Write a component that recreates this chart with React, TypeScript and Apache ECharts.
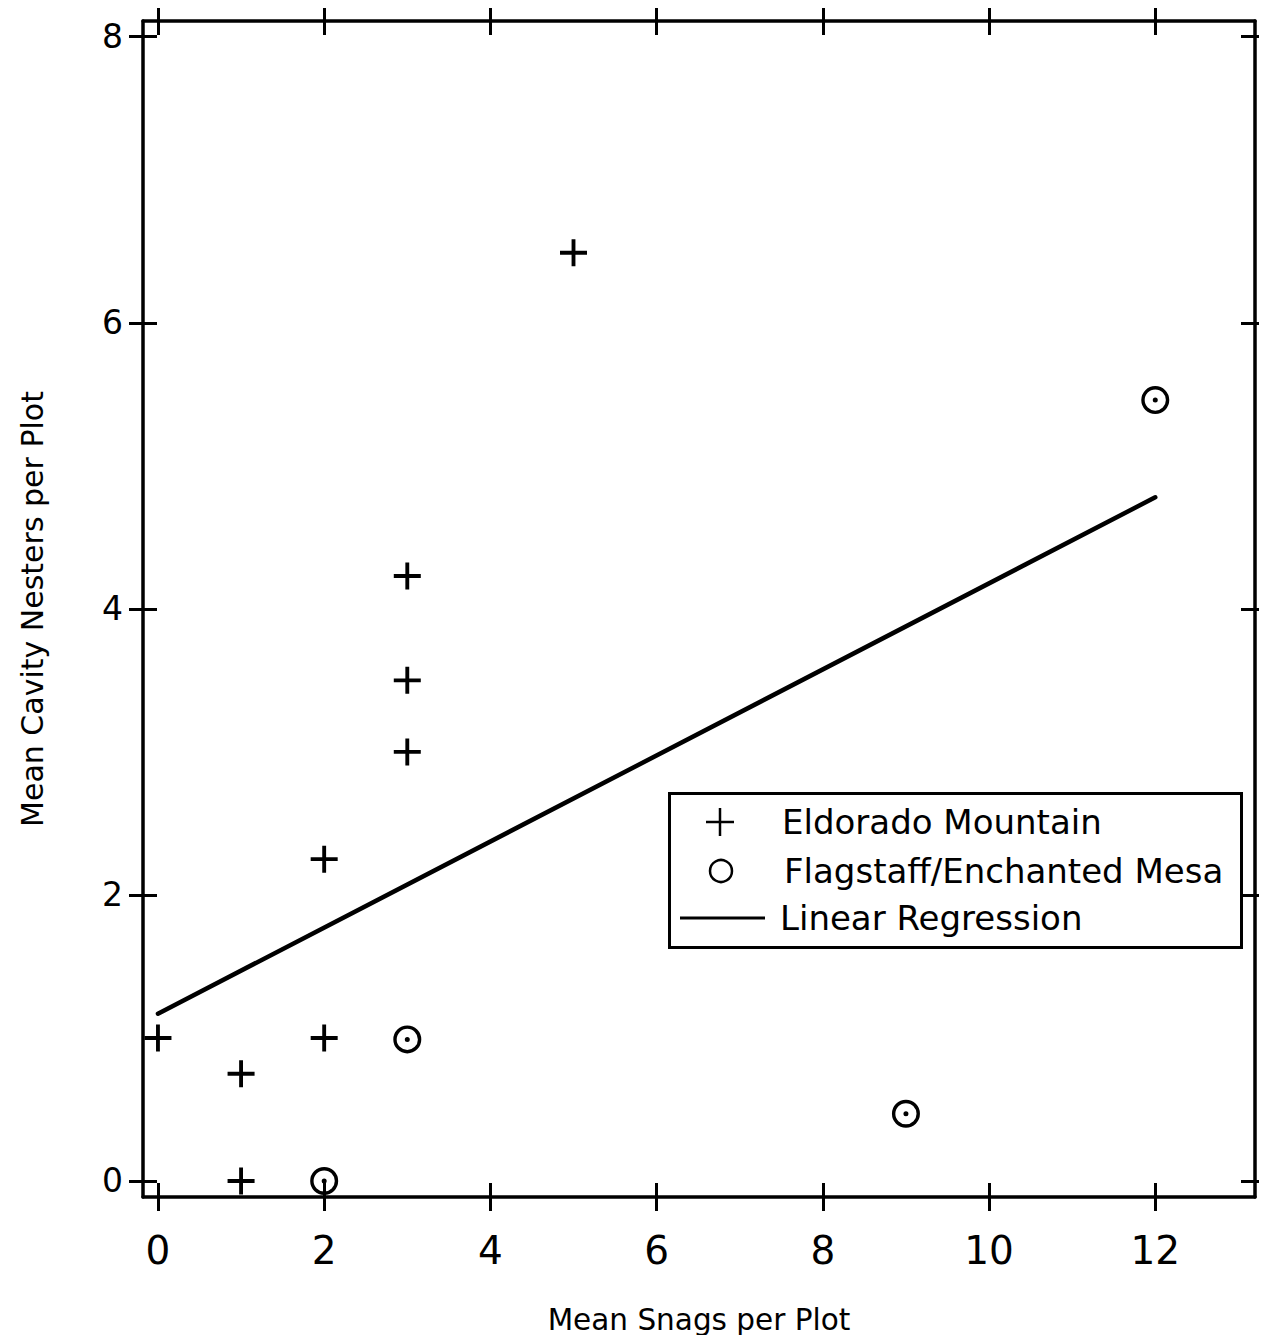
import React, { useEffect, useRef } from "react";
import * as echarts from "echarts";

const xTicks = [0, 2, 4, 6, 8, 10, 12];
const yTicks = [0, 2, 4, 6, 8];
const xRange = [-0.18, 13.2];
const yRange = [-0.112, 8.11];

const eldoradoX = [0, 1, 1, 2, 2, 3, 3, 3, 5];
const eldoradoY = [1, 0.75, 0, 1, 2.25, 3, 3.5, 4.23, 6.49];

const flagstaffX = [2, 3, 9, 12];
const flagstaffY = [0, 0.99, 0.47, 5.46];

const regressionX = [0, 12];
const regressionY = [1.17, 4.78];

const legendNames = ["Eldorado Mountain", "Flagstaff/Enchanted Mesa", "Linear Regression"];

const FONT = "DejaVu Sans";

const plusPath =
  "path://M12,0h4v12h12v4h-12v12h-4v-12h-12v-4h12z";
const ringDotPath =
  "path://M0,14A14,14 0 1,1 28,14A14,14 0 1,1 0,14Z" +
  "M3.4,14A10.6,10.6 0 1,0 24.6,14A10.6,10.6 0 1,0 3.4,14Z" +
  "M11.5,14A2.5,2.5 0 1,1 16.5,14A2.5,2.5 0 1,1 11.5,14Z";

export default function App() {
  const ref = useRef<HTMLDivElement>(null);

  useEffect(() => {
    if (!ref.current) return;
    const chart = echarts.init(ref.current, null, { renderer: "svg" });

    const tickStyle = { color: "#000", width: 3 };
    const lineStyle = { color: "#000", width: 3.5 };

    const makeX = (position: string, inside: boolean, main: boolean, labels: boolean) => ({
      type: "value",
      position,
      min: xRange[0],
      max: xRange[1],
      splitLine: { show: false },
      axisLine: { show: main, onZero: false, lineStyle },
      axisTick: { show: true, inside, length: 14, lineStyle: tickStyle, customValues: xTicks },
      axisLabel: labels
        ? {
            show: true,
            customValues: xTicks,
            margin: 34,
            color: "#000",
            fontFamily: FONT,
            fontSize: 39,
            formatter: (v: number) => String(v),
          }
        : { show: false },
      ...(labels
        ? {
            name: "Mean Snags per Plot",
            nameLocation: "middle",
            nameGap: 108,
            nameTextStyle: { color: "#000", fontFamily: FONT, fontSize: 29.5 },
          }
        : {}),
    });

    const makeY = (position: string, inside: boolean, main: boolean, labels: boolean) => ({
      type: "value",
      position,
      min: yRange[0],
      max: yRange[1],
      splitLine: { show: false },
      axisLine: { show: main, onZero: false, lineStyle },
      axisTick: { show: true, inside, length: 14, lineStyle: tickStyle, customValues: yTicks },
      axisLabel: labels
        ? {
            show: true,
            customValues: yTicks,
            margin: 20,
            color: "#000",
            fontFamily: FONT,
            fontSize: 33,
            formatter: (v: number) => String(v),
          }
        : { show: false },
      ...(labels
        ? {
            name: "Mean Cavity Nesters per Plot",
            nameLocation: "middle",
            nameGap: 96,
            nameTextStyle: { color: "#000", fontFamily: FONT, fontSize: 30 },
          }
        : {}),
    });

    const legendLeft = 668;
    const legendTop = 792;
    const rowY = [822, 871, 918];

    chart.setOption({
      animation: false,
      backgroundColor: "#fff",
      grid: { left: 143, right: 12, top: 21, bottom: 146, containLabel: false },
      xAxis: [
        makeX("bottom", false, true, true),
        makeX("bottom", true, false, false),
        makeX("top", false, true, false),
        makeX("top", true, false, false),
      ],
      yAxis: [
        makeY("left", false, true, true),
        makeY("left", true, false, false),
        makeY("right", false, true, false),
        makeY("right", true, false, false),
      ],
      series: [
        {
          name: legendNames[2],
          type: "line",
          xAxisIndex: 0,
          yAxisIndex: 0,
          showSymbol: false,
          symbol: "none",
          data: regressionX.map((x, i) => [x, regressionY[i]]),
          lineStyle: { color: "#000", width: 4.5, cap: "round" },
          z: 3,
        },
        {
          name: legendNames[0],
          type: "scatter",
          xAxisIndex: 0,
          yAxisIndex: 0,
          symbol: plusPath,
          symbolSize: 27,
          data: eldoradoX.map((x, i) => [x, eldoradoY[i]]),
          itemStyle: { color: "#000", opacity: 1 },
          z: 4,
        },
        {
          name: legendNames[1],
          type: "scatter",
          xAxisIndex: 0,
          yAxisIndex: 0,
          symbol: ringDotPath,
          symbolSize: 28,
          data: flagstaffX.map((x, i) => [x, flagstaffY[i]]),
          itemStyle: { color: "#000", opacity: 1 },
          z: 4,
        },
      ],
      graphic: [
        {
          type: "rect",
          left: legendLeft,
          top: legendTop,
          shape: { x: 0, y: 0, width: 572, height: 154 },
          style: { fill: "#fff", stroke: "#000", lineWidth: 3 },
          z: 10,
        },
        {
          type: "line",
          shape: { x1: 706, y1: rowY[0], x2: 734, y2: rowY[0] },
          style: { stroke: "#000", lineWidth: 2.5 },
          z: 11,
        },
        {
          type: "line",
          shape: { x1: 720, y1: rowY[0] - 14, x2: 720, y2: rowY[0] + 14 },
          style: { stroke: "#000", lineWidth: 2.5 },
          z: 11,
        },
        {
          type: "circle",
          shape: { cx: 721, cy: rowY[1], r: 11 },
          style: { fill: "none", stroke: "#000", lineWidth: 2.5 },
          z: 11,
        },
        {
          type: "line",
          shape: { x1: 680, y1: rowY[2], x2: 765, y2: rowY[2] },
          style: { stroke: "#000", lineWidth: 3 },
          z: 11,
        },
        ...legendNames.map((n, i) => ({
          type: "text",
          x: [782, 784, 780][i],
          y: rowY[i],
          style: {
            text: n,
            fill: "#000",
            font: `34px "${FONT}"`,
            textVerticalAlign: "middle",
            textAlign: "left",
          },
          z: 11,
        })),
      ],
    });

    return () => chart.dispose();
  }, []);

  return <div ref={ref} style={{ width: 1267, height: 1343, margin: -8 }} />;
}
